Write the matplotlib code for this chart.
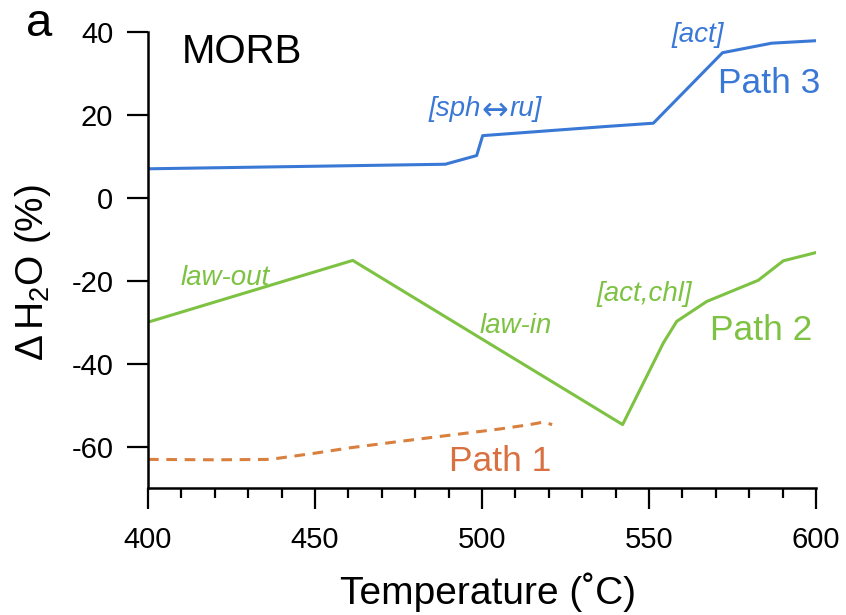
import matplotlib
matplotlib.use("Agg")
import matplotlib.pyplot as plt
from matplotlib.ticker import MultipleLocator

plt.rcParams['font.family'] = ['Liberation Sans', 'DejaVu Sans']
plt.rcParams['mathtext.fontset'] = 'custom'
plt.rcParams['mathtext.rm'] = 'Liberation Sans'
plt.rcParams['mathtext.it'] = 'Liberation Sans:italic'
plt.rcParams['axes.unicode_minus'] = False

# Path 3 (blue)
path3_T = [400, 489, 498.4, 500.2, 537, 551.3, 572, 586.7, 600]
path3_dH = [7.0, 8.1, 10.2, 15.0, 17.2, 18.0, 35.0, 37.3, 37.9]

# Path 2 (green)
path2_T = [400, 461.3, 542.1, 554.3, 558.3, 567.3, 582.7, 590.2, 600]
path2_dH = [-30.0, -15.1, -54.7, -35.0, -29.8, -25.0, -19.9, -15.2, -13.2]

# Path 1 (orange dashed)
path1_T = [400, 420, 436.5, 450, 460.5, 475, 490, 505, 514.4, 518.4, 521]
path1_dH = [-63.1, -63.2, -63.1, -61.6, -60.3, -58.8, -57.3, -55.8, -54.7, -54.1, -54.7]

xticks = [400, 450, 500, 550, 600]
yticks = [-60, -40, -20, 0, 20, 40]

blue = '#3a78d6'
green = '#7dc242'
orange = '#d9803e'
orange_txt = '#d8703f'

fig = plt.figure(figsize=(8.46, 6.15), dpi=100)
ax = fig.add_axes([148/846, 1-488/615, (816-148)/846, (488-32)/615])

ax.plot(path3_T, path3_dH, color=blue, lw=2.2, solid_joinstyle='round')
ax.plot(path2_T, path2_dH, color=green, lw=2.2, solid_joinstyle='round')
ax.plot(path1_T, path1_dH, color=orange, lw=2.2, ls=(0, (3.5, 2.5)))

ax.set_xlim(400, 600)
ax.set_ylim(-70, 40)
ax.set_xticks(xticks)
ax.set_yticks(yticks)
ax.xaxis.set_minor_locator(MultipleLocator(10))

for s in ['top', 'right']:
    ax.spines[s].set_visible(False)
for s in ['left', 'bottom']:
    ax.spines[s].set_linewidth(1.8)

ax.tick_params(axis='both', which='major', direction='out', length=15, width=1.6,
               labelsize=21, pad=10)
ax.tick_params(axis='x', which='minor', direction='out', length=7, width=1.6)
ax.tick_params(axis='x', which='major', pad=12)

fig.text(488/846, 1-604/615, 'Temperature (˚C)', fontsize=28, ha='center', va='baseline')
fig.text(43/846, 1-272/615, r'$\Delta\,$H$_2$O (%)', fontsize=28, rotation=90,
         ha='center', va='baseline', rotation_mode='anchor')

ax.text(410.2, 32.5, 'MORB', fontsize=29, color='black', va='baseline')

# [sph<->ru] built from three pieces so the arrow can be full size
t1 = ax.text(484.0, 19.8, '[sph', fontsize=20, style='italic', color=blue, va='baseline')
t2 = ax.annotate('↔', xy=(1, 19.8), xycoords=(t1, 'data'), xytext=(0.5, -2.5),
                 textcoords='offset points', family='DejaVu Sans', fontsize=23,
                 color=blue, va='baseline', ha='left')
t3 = ax.annotate('ru]', xy=(1, 19.8), xycoords=(t2, 'data'), xytext=(0.5, 0),
                 textcoords='offset points', fontsize=20, style='italic',
                 color=blue, va='baseline', ha='left')

ax.text(556.8, 37.7, '[act]', fontsize=20, style='italic', color=blue, va='baseline')
ax.text(570.7, 25.2, 'Path 3', fontsize=25.5, color=blue, va='baseline')
ax.text(409.6, -21.0, 'law-out', fontsize=20, style='italic', color=green, va='baseline')
ax.text(499.4, -32.5, 'law-in', fontsize=20, style='italic', color=green, va='baseline')
ax.text(534.3, -25.0, '[act,chl]', fontsize=20, style='italic', color=green, va='baseline')
ax.text(568.4, -34.2, 'Path 2', fontsize=25.5, color=green, va='baseline')
ax.text(490.1, -66.0, 'Path 1', fontsize=25.5, color=orange_txt, va='baseline')

fig.text(26/846, 1-36/615, 'a', fontsize=34, va='baseline')

fig.savefig('out.png', dpi=100)
